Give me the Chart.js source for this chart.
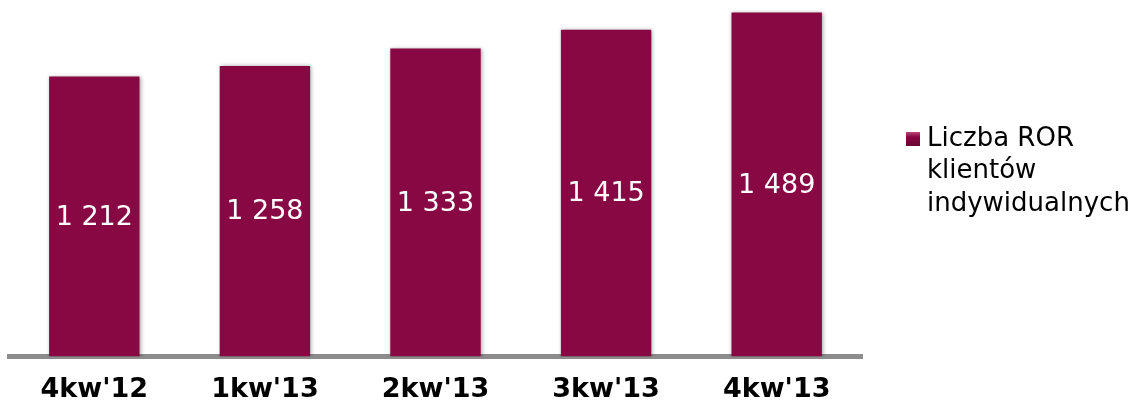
<!DOCTYPE html>
<html>
<head>
<meta charset="utf-8">
<script src="https://cdn.jsdelivr.net/npm/chart.js@4.4.1/dist/chart.umd.min.js"></script>
<style>
html,body{margin:0;padding:0;background:#fff;}
#wrap{width:1135px;height:403px;}
</style>
</head>
<body>
<div id="wrap"><canvas id="c" width="1135" height="403"></canvas></div>
<script>
const categories = ["4kw'12", "1kw'13", "2kw'13", "3kw'13", "4kw'13"];
const values = [1212, 1258, 1333, 1415, 1489];
const valueLabels = ["1 212", "1 258", "1 333", "1 415", "1 489"];
const seriesName = ["Liczba ROR", "klientów", "indywidualnych"];

const FONT = "'DejaVu Sans', Verdana, sans-serif";
const BAR = '#870842';

const barLabels = {
  id: 'barLabels',
  afterDatasetsDraw(chart) {
    const ctx = chart.ctx;
    const meta = chart.getDatasetMeta(0);
    ctx.save();
    ctx.fillStyle = '#ffffff';
    ctx.font = '27px ' + FONT;
    ctx.textAlign = 'center';
    ctx.textBaseline = 'middle';
    meta.data.forEach((bar, i) => {
      const p = bar.getProps(['x', 'y', 'base'], true);
      ctx.fillText(valueLabels[i], p.x, (p.y + p.base) / 2 + 1);
    });
    ctx.restore();
  }
};

const sideLegend = {
  id: 'sideLegend',
  afterDraw(chart) {
    const ctx = chart.ctx;
    ctx.save();
    const x0 = 906, y0 = 139;
    const g = ctx.createLinearGradient(0, y0 - 7, 0, y0 + 7);
    g.addColorStop(0, '#c0457a');
    g.addColorStop(0.35, BAR);
    g.addColorStop(1, '#6a0633');
    ctx.fillStyle = g;
    ctx.fillRect(x0, y0 - 7, 14, 14);
    ctx.fillStyle = '#000';
    ctx.font = '26px ' + FONT;
    ctx.textAlign = 'left';
    ctx.textBaseline = 'middle';
    seriesName.forEach((t, i) => ctx.fillText(t, 927, y0 + i * 32.5));
    ctx.restore();
  }
};

const shadowPlugin = {
  id: 'shadowPlugin',
  beforeDatasetsDraw(chart) {
    const ctx = chart.ctx;
    ctx.save();
    ctx.shadowColor = 'rgba(0,0,0,0.35)';
    ctx.shadowBlur = 4;
    ctx.shadowOffsetX = 1;
    ctx.shadowOffsetY = 0;
  },
  afterDatasetsDraw(chart) {
    chart.ctx.restore();
  }
};

new Chart(document.getElementById('c'), {
  type: 'bar',
  data: {
    labels: categories,
    datasets: [{
      label: seriesName.join(' '),
      data: values,
      backgroundColor: BAR,
      borderWidth: 0,
      categoryPercentage: 1,
      barPercentage: 0.53
    }]
  },
  options: {
    responsive: false,
    animation: false,
    devicePixelRatio: 1,
    layout: { padding: { left: 9, right: 273, top: 10, bottom: -20 } },
    plugins: { legend: { display: false }, tooltip: { enabled: false } },
    scales: {
      x: {
        z: 1,
        grid: { display: false, drawTicks: false },
        border: { display: true, color: '#8c8c8c', width: 5 },
        ticks: { color: '#000', font: { family: FONT, size: 27, weight: 'bold' }, padding: 17 }
      },
      y: {
        display: false,
        min: 0,
        max: 1500
      }
    }
  },
  plugins: [shadowPlugin, barLabels, sideLegend]
});
</script>
</body>
</html>
